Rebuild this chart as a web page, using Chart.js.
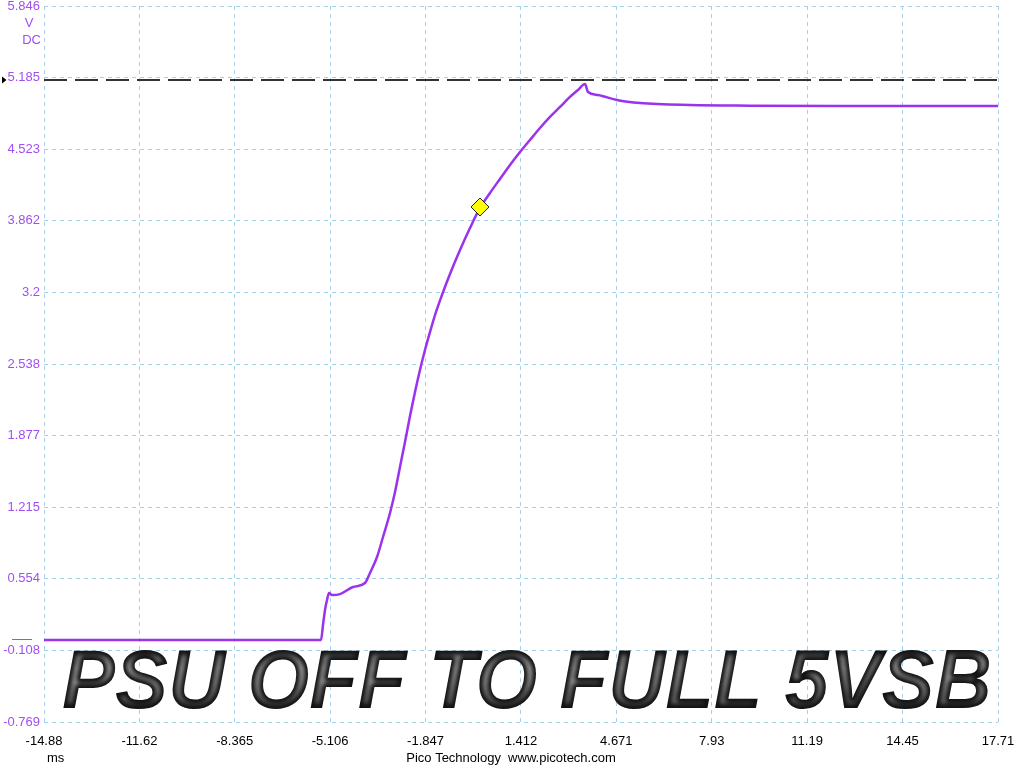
<!DOCTYPE html>
<html>
<head>
<meta charset="utf-8">
<title>PSU off to full 5VSB</title>
<script src="https://cdn.jsdelivr.net/npm/chart.js@4.4.1/dist/chart.umd.min.js"></script>
<style>
    html, body { margin: 0; padding: 0; background: #fff; }
    #wrap { width: 1024px; height: 768px; position: relative; }
</style>
</head>
<body>
<div id="wrap"><canvas id="scope" width="1024" height="768"></canvas></div>
<script>
// Axis tick labels (time in ms, voltage in V DC)
const timeTicks = [-14.88, -11.62, -8.365, -5.106, -1.847, 1.412, 4.671, 7.93, 11.19, 14.45, 17.71];
const voltTicks = [-0.769, -0.108, 0.554, 1.215, 1.877, 2.538, 3.2, 3.862, 4.523, 5.185, 5.846];

// Trace
const traceTime = [-14.88, -12.5, -10.0, -7.5, -5.6, -5.417, -5.349, -5.281, -5.212, -5.144, -5.042, -4.768,
    -4.324, -3.914, -3.744, -3.504, -3.299, -3.060, -2.889, -2.719, -2.548, -2.377, -2.206, -2.036,
    -1.865, -1.694, -1.523, -1.284, -1.011, -0.669, -0.327, 0.014, 0.356, 0.697, 1.039, 1.381,
    1.722, 2.064, 2.405, 2.747, 3.088, 3.362, 3.601, 3.704, 4.045, 4.694, 5.480, 7.188, 9.238,
    12.654, 17.71];
const traceVolt = [-0.011, -0.011, -0.011, -0.011, -0.011, -0.011, 0.127, 0.266, 0.358, 0.423, 0.404, 0.413,
    0.478, 0.515, 0.608, 0.755, 0.940, 1.162, 1.356, 1.587, 1.818, 2.058, 2.280, 2.483,
    2.668, 2.834, 2.991, 3.176, 3.370, 3.592, 3.795, 3.980, 4.119, 4.248, 4.377, 4.497,
    4.608, 4.719, 4.821, 4.913, 5.006, 5.070, 5.125, 5.051, 5.024, 4.978, 4.950, 4.931, 4.925,
    4.922, 4.922];

// Threshold (dashed) level and the yellow ruler marker
const refLevel = 5.162;
const markerTime = [0.014];
const markerVolt = [3.989];

const titleText = 'PSU OFF TO FULL 5VSB';

const traceColor = '#9933ee';
const purpleText = '#a050f0';
const gridColor = '#a6d0ea';
const baseFont = '"Liberation Sans", Arial, sans-serif';

// Extra screen furniture: units, markers, footer and the big caption
const scopeExtras = {
    id: 'scopeExtras',
    afterDraw(chart) {
        const ctx = chart.ctx;
        const ys = chart.scales.y;
        ctx.save();

        // units under the top voltage label
        ctx.font = '13px ' + baseFont;
        ctx.fillStyle = purpleText;
        ctx.textBaseline = 'middle';
        ctx.textAlign = 'center';
        ctx.fillText('V', 29, 23);
        ctx.textAlign = 'right';
        ctx.fillText('DC', 41, 40);

        // zero level marker of the channel
        const yz = Math.round(ys.getPixelForValue(traceVolt[0])) - 0.5;
        ctx.strokeStyle = purpleText;
        ctx.lineWidth = 1;
        ctx.beginPath();
        ctx.moveTo(12, yz);
        ctx.lineTo(32, yz);
        ctx.stroke();

        // trigger level arrow
        const yr = ys.getPixelForValue(refLevel);
        ctx.fillStyle = '#000';
        ctx.beginPath();
        ctx.moveTo(2, yr - 3.5);
        ctx.lineTo(6.5, yr);
        ctx.lineTo(2, yr + 3.5);
        ctx.closePath();
        ctx.fill();

        // footer
        ctx.font = '13px ' + baseFont;
        ctx.fillStyle = '#000';
        ctx.textAlign = 'left';
        ctx.fillText('ms', 47, 758);
        ctx.textAlign = 'center';
        ctx.fillText('Pico Technology  www.picotech.com', 511, 758);

        // big chrome-look caption drawn on its own canvas
        const off = document.createElement('canvas');
        off.width = 1024;
        off.height = 120;
        const oc = off.getContext('2d');
        oc.font = 'italic bold 84px ' + baseFont;
        oc.textBaseline = 'alphabetic';
        const w = oc.measureText(titleText).width;
        const sx = 930 / w;
        oc.save();
        oc.translate(62, 101);
        oc.scale(sx, 1);
        const g = oc.createLinearGradient(0, -62, 0, 0);
        g.addColorStop(0, '#6a6a6a');
        g.addColorStop(0.35, '#b4b4b4');
        g.addColorStop(0.6, '#9c9c9c');
        g.addColorStop(1, '#5a5a5a');
        oc.fillStyle = g;
        oc.fillText(titleText, 0, 0);
        oc.globalCompositeOperation = 'source-atop';
        oc.filter = 'blur(2px)';
        oc.strokeStyle = '#101010';
        oc.lineWidth = 8;
        oc.lineJoin = 'round';
        oc.strokeText(titleText, 0, 0);
        oc.restore();
        ctx.drawImage(off, 0, 607);

        ctx.restore();
    }
};

const ctx = document.getElementById('scope').getContext('2d');

new Chart(ctx, {
    type: 'line',
    data: {
        datasets: [
            {
                label: 'Marker',
                data: markerTime.map((t, i) => ({ x: t, y: markerVolt[i] })),
                showLine: false,
                pointStyle: 'rectRot',
                pointRadius: 9,
                pointBackgroundColor: '#ffff00',
                pointBorderColor: '#222',
                pointBorderWidth: 1
            },
            {
                label: 'Channel A',
                data: traceTime.map((t, i) => ({ x: t, y: traceVolt[i] })),
                borderColor: traceColor,
                borderWidth: 2.5,
                pointRadius: 0,
                cubicInterpolationMode: 'monotone',
                fill: false
            },
            {
                label: 'Threshold',
                data: [{ x: timeTicks[0], y: refLevel }, { x: timeTicks[timeTicks.length - 1], y: refLevel }],
                borderColor: '#333',
                borderWidth: 2,
                borderDash: [23, 8],
                pointRadius: 0,
                fill: false
            }
        ]
    },
    options: {
        responsive: false,
        animation: false,
        layout: { autoPadding: false, padding: { left: 0, top: 6, right: 26, bottom: 0 } },
        plugins: {
            legend: { display: false },
            tooltip: { enabled: false }
        },
        scales: {
            x: {
                type: 'linear',
                min: timeTicks[0],
                max: timeTicks[timeTicks.length - 1],
                afterBuildTicks: scale => { scale.ticks = timeTicks.map(v => ({ value: v })); },
                afterFit: scale => { scale.height = 46; scale.paddingLeft = 0; scale.paddingRight = 0; },
                grid: { color: gridColor, lineWidth: 1, drawTicks: false },
                border: { display: false, dash: [4, 4] },
                ticks: {
                    autoSkip: false,
                    maxRotation: 0,
                    padding: 12,
                    color: '#000',
                    font: { family: baseFont, size: 13 },
                    callback: (v, i) => String(timeTicks[i])
                }
            },
            y: {
                type: 'linear',
                min: voltTicks[0],
                max: voltTicks[voltTicks.length - 1],
                afterBuildTicks: scale => { scale.ticks = voltTicks.map(v => ({ value: v })); },
                afterFit: scale => { scale.width = 44; scale.paddingTop = 0; scale.paddingBottom = 0; },
                grid: { color: gridColor, lineWidth: 1, drawTicks: false },
                border: { display: false, dash: [4, 4] },
                ticks: {
                    autoSkip: false,
                    padding: 4,
                    color: purpleText,
                    font: { family: baseFont, size: 13 },
                    callback: (v, i) => String(voltTicks[i])
                }
            }
        }
    },
    plugins: [scopeExtras]
});
</script>
</body>
</html>
